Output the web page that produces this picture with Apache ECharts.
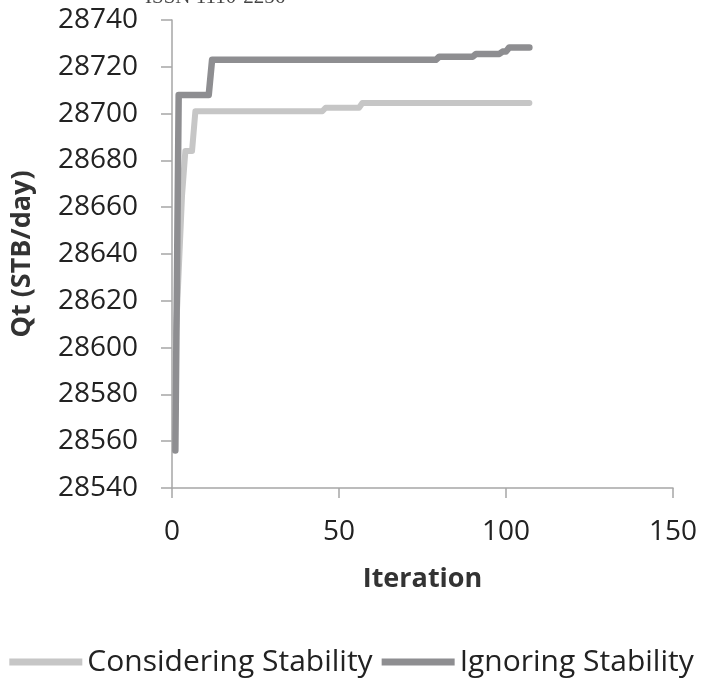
<!DOCTYPE html>
<html>
<head>
<meta charset="utf-8">
<script src="https://cdn.jsdelivr.net/npm/echarts@6/dist/echarts.min.js"></script>
<style>
html,body{margin:0;padding:0;background:#fff;}
#chart{width:703px;height:679px;}
</style>
</head>
<body>
<div id="chart"></div>
<script>
// Data: [iteration, Qt]
const consideringStability = [
  [1, 28600], [3, 28665], [4, 28684], [6, 28684], [7, 28701],
  [45, 28701], [46, 28702.5], [56, 28702.5], [57, 28704.5], [107, 28704.5]
];
const ignoringStability = [
  [1, 28556], [2, 28708], [11, 28708], [12, 28723], [79, 28723],
  [80, 28724.3], [90, 28724.3], [91, 28725.5], [98, 28725.5],
  [99, 28726.5], [100, 28726.5], [101, 28728.3], [107, 28728.3]
];
const seriesNames = ['Considering Stability', 'Ignoring Stability'];
const xTicks = { min: 0, max: 150, interval: 50 };
const yTicks = { min: 28540, max: 28740, interval: 20 };

const chart = echarts.init(document.getElementById('chart'));
const font = '"Open Sans", "Noto Sans", sans-serif';
chart.setOption({
  backgroundColor: '#fff',
  animation: false,
  title: {
    text: 'ISSN 1110-2256',
    left: 140, top: -18,
    textStyle: { fontFamily: 'Liberation Serif, serif', fontSize: 21, fontWeight: 'normal', color: '#444' }
  },
  grid: { left: 172, right: 30, top: 20, bottom: 191, containLabel: false },
  legend: {
    data: seriesNames,
    bottom: -3,
    left: 'center',
    icon: 'rect',
    itemWidth: 73,
    itemHeight: 7,
    itemGap: 9,
    textStyle: { fontFamily: font, fontSize: 30, color: '#222' }
  },
  xAxis: {
    type: 'value',
    min: xTicks.min, max: xTicks.max, interval: xTicks.interval,
    name: 'Iteration',
    nameLocation: 'middle',
    nameGap: 78,
    nameTextStyle: { fontFamily: font, fontSize: 27, fontWeight: 'bold', color: '#333' },
    axisLine: { show: true, onZero: false, lineStyle: { color: '#a6a6a6', width: 1.5 } },
    axisTick: { show: true, inside: false, length: 10, lineStyle: { color: '#a6a6a6', width: 1.5 } },
    axisLabel: { fontFamily: font, fontSize: 28, color: '#222', margin: 30 },
    splitLine: { show: false }
  },
  yAxis: {
    type: 'value',
    min: yTicks.min, max: yTicks.max, interval: yTicks.interval,
    name: 'Qt (STB/day)',
    nameLocation: 'middle',
    nameRotate: 90,
    nameGap: 136,
    nameTextStyle: { fontFamily: font, fontSize: 27, fontWeight: 'bold', color: '#333' },
    axisLine: { show: true, onZero: false, lineStyle: { color: '#a6a6a6', width: 1.5 } },
    axisTick: { show: true, inside: false, length: 11, lineStyle: { color: '#a6a6a6', width: 1.5 } },
    axisLabel: { fontFamily: font, fontSize: 28, color: '#222', margin: 34, formatter: function (v) { return String(v); } },
    splitLine: { show: false }
  },
  series: [
    {
      name: seriesNames[0],
      type: 'line',
      data: consideringStability,
      symbol: 'none',
      color: '#c6c6c6',
      lineStyle: { color: '#c6c6c6', width: 6, cap: 'round', join: 'round' }
    },
    {
      name: seriesNames[1],
      type: 'line',
      data: ignoringStability,
      symbol: 'none',
      color: '#8e8e91',
      lineStyle: { color: '#8e8e91', width: 6.5, cap: 'round', join: 'round' }
    }
  ]
});
</script>
</body>
</html>
